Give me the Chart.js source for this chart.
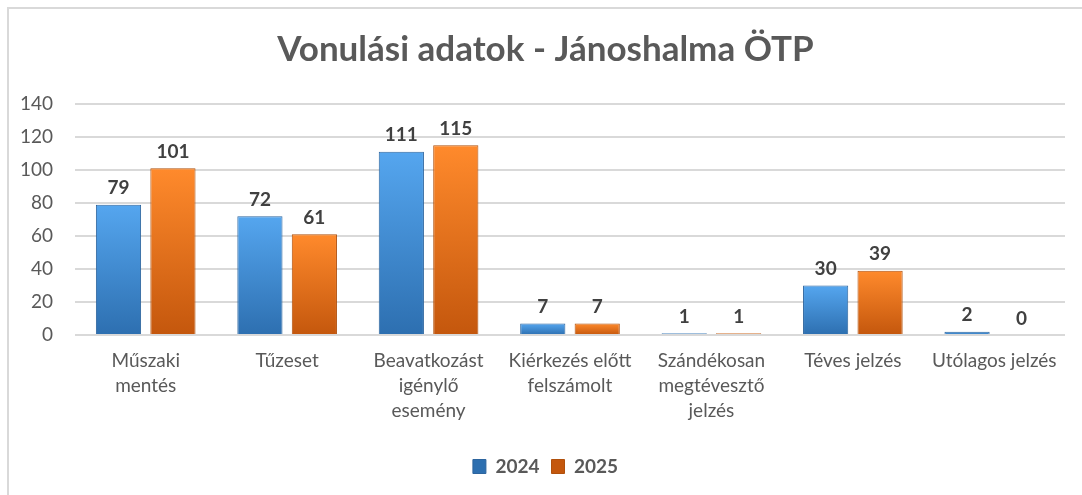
<!DOCTYPE html>
<html>
<head>
<meta charset="utf-8">
<script src="https://cdn.jsdelivr.net/npm/chart.js@4.4.1/dist/chart.umd.min.js"></script>
<style>
  html, body { margin: 0; padding: 0; background: #fff; overflow: hidden; }
  #frame { position: absolute; left: 7px; top: 7px; width: 1200px; height: 600px; border: 2px solid #d9d9d9; }
  #wrap { position: absolute; left: 0; top: 0; width: 1082px; height: 495px; }
</style>
</head>
<body>
<div id="frame"></div>
<div id="wrap"><canvas id="vonulasChart"></canvas></div>
<script>
const categories = [
  ['Műszaki', 'mentés'],
  'Tűzeset',
  ['Beavatkozást', 'igénylő', 'esemény'],
  ['Kiérkezés előtt', 'felszámolt'],
  ['Szándékosan', 'megtévesztő', 'jelzés'],
  'Téves jelzés',
  'Utólagos jelzés',
];
const values2024 = [79, 72, 111, 7, 1, 30, 2];
const values2025 = [101, 61, 115, 7, 1, 39, 0];
const yTicks = [0, 20, 40, 60, 80, 100, 120, 140];

const FONT = 'Lato, Carlito, Calibri, sans-serif';
const TEXT_GRAY = '#595959';

function barGradient(topColor, bottomColor, fallback) {
  return (ctx) => {
    const chart = ctx.chart;
    const yScale = chart.scales.y;
    if (!chart.chartArea || !yScale || ctx.type !== 'data') return fallback;
    const top = yScale.getPixelForValue(ctx.raw);
    const base = yScale.getPixelForValue(0);
    if (!isFinite(top) || base - top < 1) return fallback;
    const g = chart.ctx.createLinearGradient(0, top, 0, base);
    g.addColorStop(0, topColor);
    g.addColorStop(1, bottomColor);
    return g;
  };
}

// value labels above each bar
const valueLabels = {
  id: 'valueLabels',
  afterDatasetsDraw(chart) {
    const c = chart.ctx;
    c.save();
    c.font = 'bold 19px ' + FONT;
    c.fillStyle = '#404040';
    c.textAlign = 'center';
    c.textBaseline = 'bottom';
    chart.data.datasets.forEach((ds, i) => {
      chart.getDatasetMeta(i).data.forEach((bar, j) => {
        c.fillText(ds.data[j], bar.x, bar.y - 7);
      });
    });
    c.restore();
  },
};

// the original centres title and legend a little right of the canvas middle
const nudgeBlocks = {
  id: 'nudgeBlocks',
  afterLayout(chart) {
    [chart.titleBlock, chart.legend].forEach(b => {
      if (!b) return;
      b.left += 13;
      b.right += 13;
    });
  },
};

new Chart(document.getElementById('vonulasChart'), {
  type: 'bar',
  data: {
    labels: categories,
    datasets: [
      {
        label: '2024',
        data: values2024,
        backgroundColor: barGradient('#55a6ef', '#2d6fb0', '#4a90d9'),
        borderColor: '#2d659e',
        borderWidth: 1,
        categoryPercentage: 0.77,
        barPercentage: 0.83,
      },
      {
        label: '2025',
        data: values2025,
        backgroundColor: barGradient('#ff8a2c', '#c4570d', '#ee7a1f'),
        borderColor: '#b0500c',
        borderWidth: 1,
        categoryPercentage: 0.77,
        barPercentage: 0.83,
      },
    ],
  },
  options: {
    responsive: true,
    maintainAspectRatio: false,
    animation: false,
    layout: { padding: { left: 0, right: 17, top: 0, bottom: 9 } },
    scales: {
      x: {
        grid: { display: false },
        border: { display: false },
        afterFit(scale) { scale.height = 110; },
        ticks: {
          color: TEXT_GRAY,
          font: { family: FONT, size: 19, lineHeight: 1.3 },
          padding: 6,
          maxRotation: 0,
          autoSkip: false,
        },
      },
      y: {
        min: 0,
        max: 140,
        afterFit(scale) { scale.width = 75; },
        afterBuildTicks(scale) { scale.ticks = yTicks.map(v => ({ value: v })); },
        grid: { color: '#d9d9d9', lineWidth: 2, drawTicks: false },
        border: { display: false },
        ticks: {
          color: TEXT_GRAY,
          font: { family: FONT, size: 19 },
          padding: 22,
        },
      },
    },
    plugins: {
      title: {
        display: true,
        text: 'Vonulási adatok - Jánoshalma ÖTP',
        color: TEXT_GRAY,
        font: { family: FONT, size: 35, weight: 'bold' },
        padding: { top: 29, bottom: 33 },
      },
      legend: {
        position: 'bottom',
        labels: {
          color: TEXT_GRAY,
          font: { family: FONT, size: 19, weight: 'bold' },
          boxWidth: 13,
          boxHeight: 14,
          padding: 12,
        },
      },
      tooltip: { enabled: false },
    },
  },
  plugins: [valueLabels, nudgeBlocks],
});
</script>
</body>
</html>
